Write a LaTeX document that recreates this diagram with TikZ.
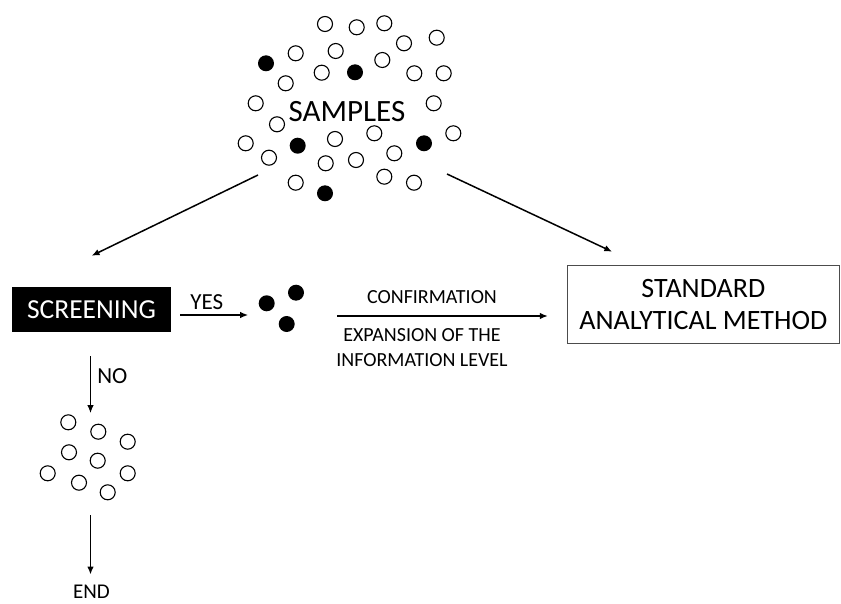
\documentclass[tikz,border=0pt]{standalone}
\usepackage{fontspec}
\setmainfont{Carlito}
\usetikzlibrary{arrows.meta}

\tikzset{
  flow/.style={-{Latex[length=8pt,width=6.5pt]}, line width=1.5pt},
  open/.style={draw=black, line width=1.1pt, fill=white},
  hit/.style={fill=black},
  lbl/.style={font=\fontsize{20}{24.5}\selectfont, inner sep=1pt},
  ans/.style={font=\fontsize{23}{27}\selectfont, inner sep=1pt},
}

\begin{document}
\begin{tikzpicture}[x=1pt, y=-1pt]
	\useasboundingbox (0,0) rectangle (841,604);
	\def\rr{7.5pt}
	\def\rf{8pt}

	% Cloud of samples: empty circles are negatives, filled ones positives
	\foreach \x/\y in {325/24, 356.7/27.3, 384.3/23.3, 404/43.3, 436.7/37.7,
			295.7/53.3, 335.7/51, 382.3/60, 321.7/72.7, 414.3/73.3, 443.7/73.3,
			285.7/83.3, 255.7/103.3, 433.7/103.3, 277/124.3, 245.7/143.3,
			335/139, 374.3/133.3, 453.3/133.3, 269/157.7, 325.7/163.3,
			356/160, 394.3/153.3, 295.7/182.7, 384.3/176.7, 414/182.7}
		\draw[open] (\x,\y) circle (\rr);
	\foreach \x/\y in {266/63.3, 355/72.3, 297.7/145.7, 424/143.3, 325/193.3}
		\fill[hit] (\x,\y) circle (\rf);
	\node[font=\fontsize{31}{36}\selectfont] (samples) at (347,112) {SAMPLES};
	\coordinate (cloudL) at (258,175);
	\coordinate (cloudR) at (447,174);

	% Boxes
	\node[fill=black, text=white, minimum width=159pt, minimum height=45pt,
		inner sep=0pt, font=\fontsize{27.5}{32}\selectfont] (screening) at (91.5,309.5) {SCREENING};
	\node[draw=black!70, line width=0.9pt, minimum width=272pt, minimum height=78pt,
		align=center, font=\fontsize{28}{32}\selectfont] (method) at (703.3,304.2)
		{STANDARD\\ANALYTICAL METHOD};

	\draw[flow] (cloudL) -- ([yshift=31pt]screening.north);
	\draw[flow] (cloudR) -- ([xshift=-91pt,yshift=13pt]method.north);

	% Positive branch
	\foreach \x/\y in {266.7/303.3, 296/292.7, 286.7/324}
		\fill[hit] (\x,\y) circle (\rf);
	\coordinate (confirm) at (337,316);
	\draw[flow] ([xshift=9pt,yshift=-5.5pt]screening.east) -- node[ans, above=4pt, pos=0.39] {YES} ++(68,0);
	\draw[flow] (confirm) -- ([xshift=-19pt,yshift=-11.8pt]method.west);
	\node[lbl] (conf) at (432,297) {CONFIRMATION};
	\node[lbl, align=center] (expand) at (422,347.5) {EXPANSION OF THE\\INFORMATION LEVEL};

	% Negative branch
	\foreach \x/\y in {68.3/422.3, 98.3/431.7, 127.7/441.7, 69/452.3, 97.7/460.7,
			47.7/473.3, 127.7/473.3, 79/482.7, 107.7/492.3}
		\draw[open] (\x,\y) circle (\rr);
	\draw[flow] ([xshift=-1pt,yshift=-24pt]screening.south) -- node[ans, right=5pt, pos=0.35] {NO} ++(0,57);
	\coordinate (rest) at (90.5,515);
	\node[ans, font=\fontsize{21}{25}\selectfont] (done) at (91.5,591.5) {END};
	\draw[flow] (rest) -- ([yshift=9pt]done.north -| rest);
\end{tikzpicture}
\end{document}
